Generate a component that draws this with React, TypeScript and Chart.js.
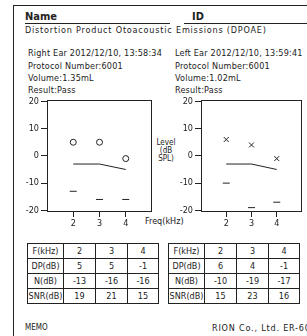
import React, { useEffect, useRef } from "react";
import { Chart, registerables } from "chart.js";
Chart.register(...registerables);

const freqs = [2, 3, 4];
const xTicks = [2, 3, 4];
const yTicks = [-20, -10, 0, 10, 20];
const rightDP = [5, 5, -1];
const rightNoise = [-13, -16, -16];
const rightSNR = [19, 21, 15];
const leftDP = [6, 4, -1];
const leftNoise = [-10, -19, -17];
const leftSNR = [15, 23, 16];
const rightCriteria = [-3, -3, -5];
const leftCriteria = [-3, -3, -5];

const INK = "#222";
const FONT = "'DejaVu Sans Condensed', 'DejaVu Sans', sans-serif";

const boxPlugin = {
  id: "box",
  afterDraw(chart: any) {
    const { ctx, chartArea: a } = chart;
    ctx.save();
    ctx.strokeStyle = INK;
    ctx.lineWidth = 1;
    ctx.strokeRect(Math.round(a.left) + 0.5, Math.round(a.top) + 0.5, Math.round(a.right - a.left) - 1, Math.round(a.bottom - a.top) - 1);
    ctx.restore();
  },
};

function pts(ys: number[]) {
  return freqs.map((x, i) => ({ x, y: ys[i] }));
}

function DPChart(props: { dp: number[]; noise: number[]; crit: number[]; style: string; left: number; width: number; padRight: number }) {
  const ref = useRef<HTMLCanvasElement>(null);
  useEffect(() => {
    const c = ref.current!;
    const tickFont = { family: FONT, size: 9 };
    const chart = new Chart(c, {
      type: "scatter",
      data: {
        datasets: [
          { data: pts(props.crit), showLine: true, pointRadius: 0, borderColor: INK, borderWidth: 1 },
          { data: pts(props.dp), pointStyle: props.style as any, pointRadius: props.style === "circle" ? 3 : 3.5, borderColor: INK, backgroundColor: "rgba(0,0,0,0)", borderWidth: 1 },
          { data: pts(props.noise), pointStyle: "line", pointRadius: 3.5, borderColor: INK, borderWidth: 1 },
        ],
      },
      options: {
        responsive: false,
        animation: false,
        devicePixelRatio: 1,
        layout: { padding: { left: 0, top: 8, right: props.padRight, bottom: 2 } },
        plugins: { legend: { display: false }, tooltip: { enabled: false } },
        scales: {
          x: {
            type: "linear",
            min: 1,
            max: 5,
            afterBuildTicks: (s: any) => { s.ticks = xTicks.map((v) => ({ value: v })); },
            afterFit: (s: any) => { s.height = 18; },
            ticks: { font: tickFont, color: INK, padding: 1, maxRotation: 0, autoSkip: false },
            grid: { display: true, drawOnChartArea: false, drawTicks: true, tickLength: 5, color: INK },
            border: { display: false },
          },
          y: {
            type: "linear",
            min: -20.6,
            max: 20.5,
            afterBuildTicks: (s: any) => { s.ticks = yTicks.map((v) => ({ value: v })); },
            afterFit: (s: any) => { s.width = 33; },
            ticks: { font: tickFont, color: INK, padding: 2, autoSkip: false },
            grid: { display: true, drawOnChartArea: false, drawTicks: true, tickLength: 6, color: INK },
            border: { display: false },
          },
        },
      },
      plugins: [boxPlugin],
    });
    return () => chart.destroy();
  }, []);
  return (
    <canvas
      ref={ref}
      width={props.width}
      height={140}
      style={{ position: "absolute", left: props.left, top: 92, width: props.width, height: 140 }}
    />
  );
}

const txt = (s: string, x: number, y: number, extra: any = {}) => (
  <div style={{ position: "absolute", left: x, top: y - 6, lineHeight: "12px", fontSize: 9, whiteSpace: "nowrap", ...extra }}>{s}</div>
);

function DataTable(props: { left: number; dp: number[]; noise: number[]; snr: number[] }) {
  const widths = [36, 32, 32, 31];
  const rows: [string, (string | number)[]][] = [
    ["F(kHz)", xTicks],
    ["DP(dB)", props.dp],
    ["N(dB)", props.noise],
    ["SNR(dB)", props.snr],
  ];
  const cell: any = { border: `1px solid ${INK}`, height: 14, padding: 0, textAlign: "center", fontSize: 9, lineHeight: "14px" };
  return (
    <table style={{ position: "absolute", left: props.left, top: 243, borderCollapse: "collapse", tableLayout: "fixed", fontFamily: FONT, color: INK }}>
      <colgroup>{widths.map((w, i) => <col key={i} style={{ width: w }} />)}</colgroup>
      <tbody>
        {rows.map(([h, vals], r) => (
          <tr key={r}>
            <td style={cell}>{h}</td>
            {vals.map((v, i) => <td key={i} style={cell}>{v}</td>)}
          </tr>
        ))}
      </tbody>
    </table>
  );
}

export default function App() {
  const info = { letterSpacing: 0.2 };
  return (
    <div style={{ position: "fixed", left: 0, top: 0, width: 307, height: 336, background: "#fff", overflow: "hidden", fontFamily: FONT, color: INK }}>
      <div style={{ position: "absolute", left: 13, top: 5, width: 300, height: 340, borderLeft: `1px solid ${INK}`, borderTop: `1px solid ${INK}` }} />
      {txt("Name", 25, 17, { fontSize: 11, fontWeight: "bold" })}
      <div style={{ position: "absolute", left: 25, top: 23, width: 145, height: 1, background: INK }} />
      {txt("ID", 192, 17, { fontSize: 11, fontWeight: "bold" })}
      <div style={{ position: "absolute", left: 184, top: 23, width: 123, height: 1, background: INK }} />
      {txt("Distortion Product Otoacoustic Emissions (DPOAE)", 25, 30, { letterSpacing: 0.8 })}
      {txt("Right Ear  2012/12/10, 13:58:34", 28, 53, info)}
      {txt("Protocol Number:6001", 28, 66, info)}
      {txt("Volume:1.35mL", 28, 78, info)}
      {txt("Result:Pass", 28, 90, info)}
      {txt("Left Ear  2012/12/10, 13:59:41", 175, 53, info)}
      {txt("Protocol Number:6001", 175, 66, info)}
      {txt("Volume:1.02mL", 175, 78, info)}
      {txt("Result:Pass", 175, 90, info)}
      <div style={{ position: "absolute", left: 150, top: 139, width: 32, textAlign: "center", fontSize: 8, lineHeight: "8px", color: "#222" }}>
        Level<br />(dB<br />SPL)
      </div>
      {txt("Freq(kHz)", 145, 221)}
      <DPChart dp={rightDP} noise={rightNoise} crit={rightCriteria} style="circle" left={14} width={143} padRight={5} />
      <DPChart dp={leftDP} noise={leftNoise} crit={leftCriteria} style="crossRot" left={168} width={139} padRight={2} />
      <DataTable left={27} dp={rightDP} noise={rightNoise} snr={rightSNR} />
      <DataTable left={168} dp={leftDP} noise={leftNoise} snr={leftSNR} />
      {txt("MEMO", 25, 328, { fontSize: 8 })}
      {txt("RION Co., Ltd. ER-60", 212, 328, { letterSpacing: 0.8 })}
    </div>
  );
}
